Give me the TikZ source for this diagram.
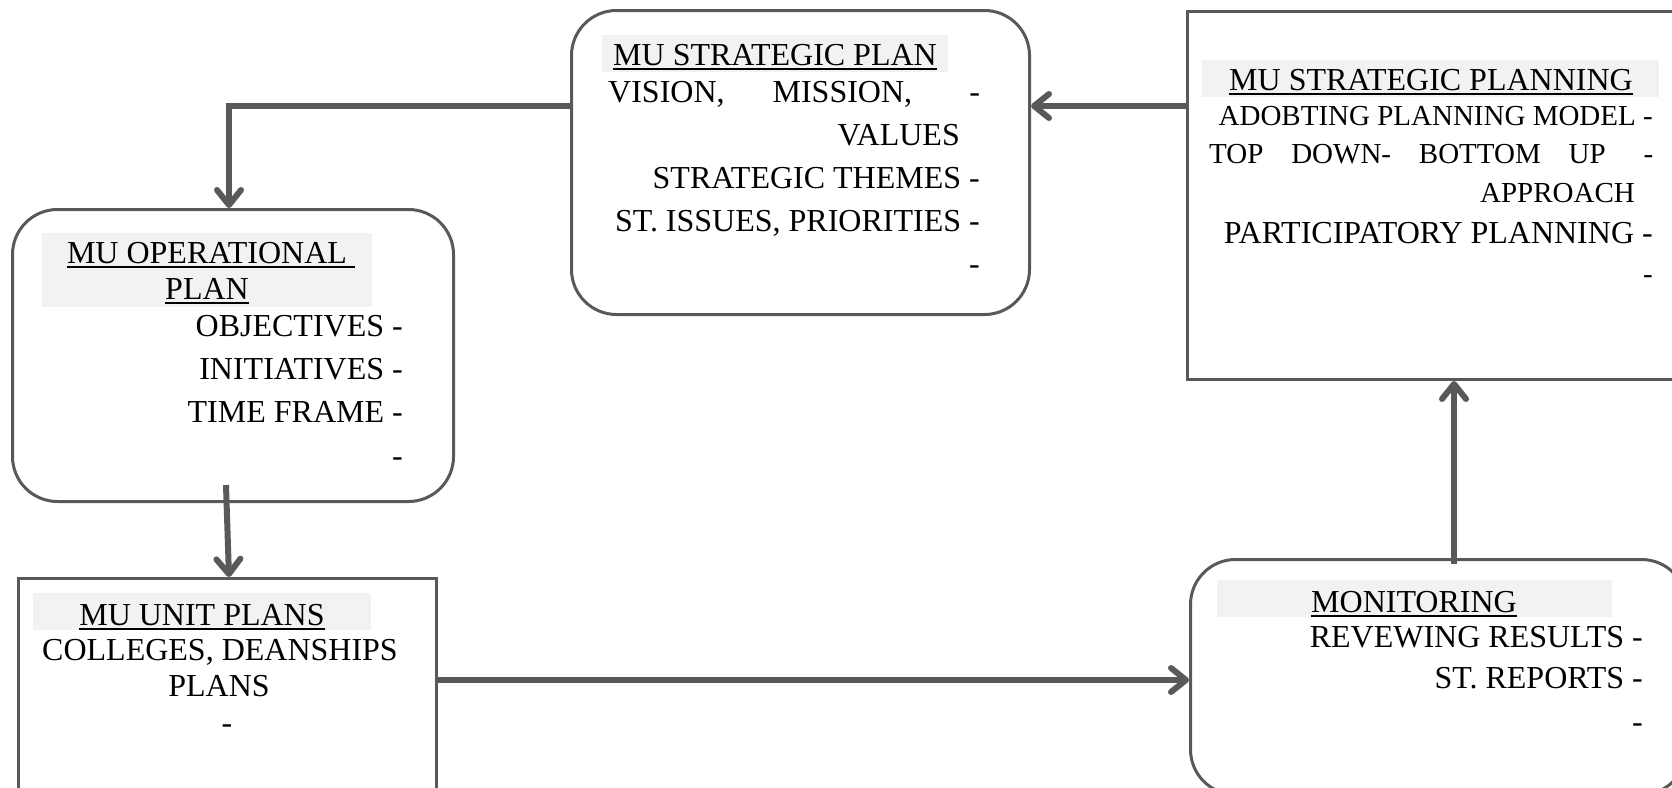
\documentclass[tikz,border=0pt]{standalone}
\usepackage{fontspec}
\setmainfont{Liberation Serif}
\usetikzlibrary{arrows.meta,calc}

\definecolor{linegray}{HTML}{595959}
\definecolor{hlgray}{HTML}{F2F2F2}

% underlined heading text
\newcommand\ultext[1]{\setbox0\hbox{#1}\rlap{\rule[-5pt]{\wd0}{1.8pt}}\box0}
\newcommand\bigtxt{\fontsize{32}{38}\selectfont}
\newcommand\smalltxt{\fontsize{29}{35}\selectfont}

\tikzset{
  boxline/.style={draw=linegray, line width=3pt, inner sep=0pt, anchor=north west},
  roundbox/.style={boxline, rounded corners=45pt},
  txt/.style={inner sep=0pt, font=\bigtxt, text=black},
  stxt/.style={inner sep=0pt, font=\smalltxt, text=black},
  conn/.style={draw=linegray, line width=6pt,
    -{Straight Barb[length=15pt,width=24pt,round]}},
}

\begin{document}
\begin{tikzpicture}[x=1pt,y=-1pt]
\useasboundingbox (0,0) rectangle (1672,787);
\clip (0,0) rectangle (1672,787);

% frames
\node[roundbox, minimum width=458pt, minimum height=304pt] (sp) at (570,9) {};
\node[boxline, minimum width=520pt, minimum height=368pt] (spl) at (1186,10) {};
\node[roundbox, minimum width=441pt, minimum height=292pt] (op) at (11,208) {};
\node[boxline, minimum width=418pt, minimum height=240pt] (up) at (17,577) {};
\node[roundbox, minimum width=496pt, minimum height=235pt] (mo) at (1189,558) {};

% heading highlights
\fill[hlgray] (602,35) rectangle (948,72);
\fill[hlgray] (1202,60) rectangle (1659,97);
\fill[hlgray] (42,233) rectangle (372,307);
\fill[hlgray] (33,593) rectangle (371,630);
\fill[hlgray] (1217,580) rectangle (1612,617);

% MU strategic plan
\node[txt, anchor=base] (spT) at (775,65) {\ultext{MU STRATEGIC PLAN}};
\node[txt, anchor=base west] (sp1) at (608,102)
  {\hbox to 372pt{VISION,\hspace{48pt}MISSION,\hfill-}};
\node[txt, anchor=base east] (sp2) at (960,145) {VALUES};
\node[txt, anchor=base east] (sp3) at (980,188) {STRATEGIC THEMES -};
\node[txt, anchor=base east] (sp4) at (980,231) {ST. ISSUES, PRIORITIES -};
\node[txt, anchor=base east] (sp5) at (980,274) {-};

% MU strategic planning
\node[txt, anchor=base] (splT) at (1431,90) {\ultext{MU STRATEGIC PLANNING}};
\node[stxt, anchor=base east] (spl1) at (1653,125) {ADOBTING PLANNING MODEL -};
\node[stxt, anchor=base west] (spl2) at (1209,163)
  {\hbox to 444pt{TOP\hfill DOWN-\hfill BOTTOM\hfill UP\hfill\hspace{10pt}-}};
\node[stxt, anchor=base east] (spl3) at (1635,202) {APPROACH};
\node[txt, anchor=base east] (spl4) at (1653,243) {PARTICIPATORY PLANNING -};
\node[stxt, anchor=base east] (spl5) at (1653,283) {-};

% MU operational plan
\node[txt, anchor=base] (opT1) at (211,263) {\ultext{MU OPERATIONAL\ }};
\node[txt, anchor=base] (opT2) at (207,299) {\ultext{PLAN}};
\node[txt, anchor=base east] (op1) at (403,336) {OBJECTIVES -};
\node[txt, anchor=base east] (op2) at (403,379) {INITIATIVES -};
\node[txt, anchor=base east] (op3) at (403,422) {TIME FRAME -};
\node[txt, anchor=base east] (op4) at (403,466) {-};

% MU unit plans
\node[txt, anchor=base] (upT) at (202,625) {\ultext{MU UNIT PLANS}};
\node[txt, anchor=base] (up1) at (220,660) {COLLEGES, DEANSHIPS};
\node[txt, anchor=base] (up2) at (219,696) {PLANS};
\node[txt, anchor=base] (up3) at (227,733) {-};

% monitoring
\node[txt, anchor=base] (moT) at (1414,612) {\ultext{MONITORING}};
\node[txt, anchor=base east] (mo1) at (1643,647) {REVEWING RESULTS -};
\node[txt, anchor=base east] (mo2) at (1643,688) {ST. REPORTS -};
\node[txt, anchor=base east] (mo3) at (1643,732) {-};

% connector rows and columns
\coordinate (rowA) at (0,106);
\coordinate (rowB) at (0,680);
\coordinate (colA) at (229,0);
\coordinate (colB) at (1454,0);

\draw[conn] (spl.west |- rowA) -- (sp.east |- rowA);
\draw[conn] (sp.west |- rowA) -| (op.north -| colA);
\draw[conn] ($(op.south -| colA)+(-3,-18)$) -- (up.north -| colA);
\draw[conn] (up.east |- rowB) -- (mo.west |- rowB);
\draw[conn] ($(mo.north -| colB)+(0,6)$) -- (spl.south -| colB);
\end{tikzpicture}
\end{document}
